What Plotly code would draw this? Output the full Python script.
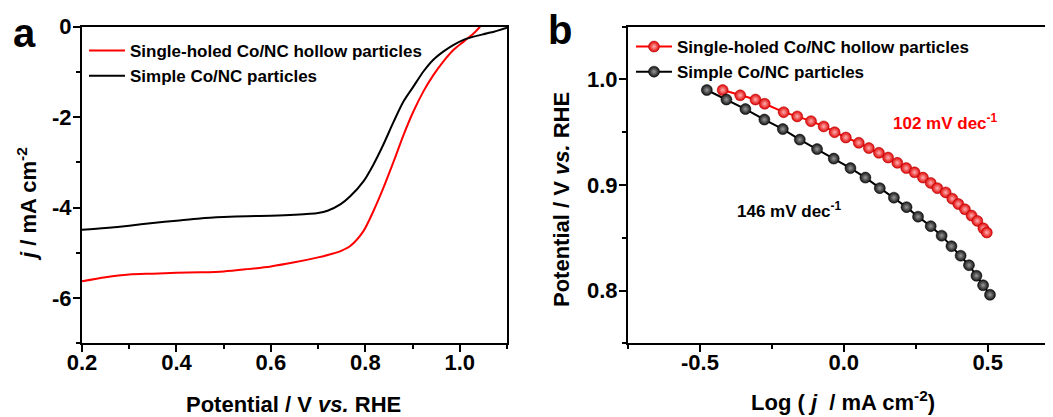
import plotly.graph_objects as go

# ---------------- Panel a: LSV curves ----------------
pot_red = [0.20, 0.25, 0.30, 0.35, 0.40, 0.45, 0.50, 0.55, 0.60, 0.65, 0.70, 0.73, 0.75,
           0.768, 0.796, 0.817, 0.838, 0.860, 0.881, 0.902, 0.923, 0.944, 0.965, 0.987,
           1.008, 1.029, 1.043]
j_red = [-5.63, -5.54, -5.48, -5.46, -5.44, -5.43, -5.41, -5.36, -5.30, -5.21, -5.10, -5.02, -4.95,
         -4.85, -4.52, -4.08, -3.57, -2.98, -2.39, -1.87, -1.43, -1.07, -0.77, -0.51,
         -0.33, -0.15, 0.0]

pot_black = [0.20, 0.25, 0.30, 0.35, 0.40, 0.45, 0.50, 0.55, 0.60, 0.65, 0.70, 0.72, 0.747,
             0.768, 0.796, 0.817, 0.838, 0.860, 0.881, 0.902, 0.923, 0.944, 0.965, 0.987,
             1.008, 1.029, 1.065, 1.10]
j_black = [-4.49, -4.45, -4.40, -4.34, -4.29, -4.24, -4.21, -4.19, -4.18, -4.16, -4.12, -4.07, -3.93,
           -3.75, -3.42, -3.05, -2.61, -2.10, -1.65, -1.32, -0.99, -0.73, -0.55, -0.40,
           -0.29, -0.22, -0.13, -0.02]

# ---------------- Panel b: Tafel plots ----------------
log_red = [-0.421, -0.360, -0.307, -0.275, -0.209, -0.162, -0.114, -0.070, -0.032, 0.007,
           0.052, 0.087, 0.122, 0.154, 0.186, 0.217, 0.246, 0.275, 0.302, 0.325,
           0.354, 0.377, 0.398, 0.421, 0.444, 0.464, 0.485, 0.497]
v_red = [0.990, 0.985, 0.981, 0.977, 0.969, 0.965, 0.9605, 0.9555, 0.950, 0.945,
         0.940, 0.935, 0.9305, 0.926, 0.921, 0.916, 0.912, 0.907, 0.902, 0.897,
         0.893, 0.887, 0.882, 0.877, 0.871, 0.866, 0.859, 0.855]

log_black = [-0.476, -0.408, -0.342, -0.276, -0.212, -0.153, -0.093, -0.035, 0.023, 0.075,
             0.125, 0.174, 0.218, 0.258, 0.302, 0.340, 0.374, 0.406, 0.435, 0.461,
             0.484, 0.508]
v_black = [0.990, 0.981, 0.972, 0.962, 0.953, 0.943, 0.934, 0.925, 0.916, 0.907,
           0.897, 0.888, 0.879, 0.870, 0.861, 0.852, 0.842, 0.833, 0.824, 0.814,
           0.805, 0.796]

name_red = "Single-holed Co/NC hollow particles"
name_black = "Simple Co/NC particles"

FONT = "Arial, 'Liberation Sans', sans-serif"
RED = "#ff0000"
BLACK = "#000000"

# The page body has an 8px margin; size the figure so it fills the rest of the window
W, H = 1045, 409
OFF = 8


def px(x):
    return (x - OFF) / W


def py(y):
    return 1 - (y - OFF) / H


fig = go.Figure()

fig.add_trace(go.Scatter(x=pot_red, y=j_red, mode="lines", name=name_red,
                         line=dict(color=RED, width=2, shape="spline", smoothing=0.8),
                         xaxis="x", yaxis="y", legend="legend"))
fig.add_trace(go.Scatter(x=pot_black, y=j_black, mode="lines", name=name_black,
                         line=dict(color=BLACK, width=2, shape="spline", smoothing=0.8),
                         xaxis="x", yaxis="y", legend="legend"))

fig.add_trace(go.Scatter(x=log_red, y=v_red, mode="lines+markers", name=name_red,
                         line=dict(color=RED, width=2),
                         marker=dict(size=11, color="#e00000",
                                     gradient=dict(type="radial", color="#ffb0b0"),
                                     line=dict(color="#b00000", width=0.5)),
                         xaxis="x2", yaxis="y2", legend="legend2"))
fig.add_trace(go.Scatter(x=log_black, y=v_black, mode="lines+markers", name=name_black,
                         line=dict(color=BLACK, width=2),
                         marker=dict(size=11, color="#111111",
                                     gradient=dict(type="radial", color="#9a9a9a"),
                                     line=dict(color="#000000", width=0.5)),
                         xaxis="x2", yaxis="y2", legend="legend2"))

tickfont = dict(family=FONT, size=22, color="black", weight="bold")
common = dict(showline=True, linecolor="black", linewidth=2, ticks="outside",
              ticklen=7, tickwidth=2, tickcolor="black", showgrid=False,
              zeroline=False, tickfont=tickfont, automargin=False)

ydom = [py(343.3), py(26.7)]

fig.update_layout(
    width=W, height=H,
    margin=dict(l=0, r=0, t=0, b=0),
    paper_bgcolor="white", plot_bgcolor="white",
    xaxis=dict(domain=[px(82), px(507)], range=[0.2, 1.1], tickvals=[0.2, 0.4, 0.6, 0.8, 1.0],
               ticktext=["0.2", "0.4", "0.6", "0.8", "1.0"], mirror=True, anchor="y",
               ticklabelstandoff=-9,
               minor=dict(dtick=0.1, tick0=0.2, ticklen=4, tickwidth=2, tickcolor="black", ticks="outside"),
               **common),
    yaxis=dict(domain=ydom, range=[-7, 0], tickvals=[0, -2, -4, -6],
               ticktext=["0", "-2", "-4", "-6"], mirror=True, anchor="x",
               ticklabelstandoff=-3,
               minor=dict(dtick=1, tick0=0, ticklen=4, tickwidth=2, tickcolor="black", ticks="outside"),
               **common),
    xaxis2=dict(domain=[px(628), 1.0], range=[-0.75, 0.727], tickvals=[-0.5, 0.0, 0.5],
                ticktext=["-0.5", "0.0", "0.5"], mirror=True, anchor="y2",
                ticklabelstandoff=-9,
                minor=dict(dtick=0.25, tick0=0, ticklen=4, tickwidth=2, tickcolor="black", ticks="outside"),
                **common),
    yaxis2=dict(domain=ydom, range=[0.75, 1.05], tickvals=[0.8, 0.9, 1.0],
                ticktext=["0.8", "0.9", "1.0"], mirror=False, anchor="x2",
                ticklabelstandoff=-3,
                minor=dict(dtick=0.05, tick0=0, ticklen=4, tickwidth=2, tickcolor="black", ticks="outside"),
                **common),
    legend=dict(x=px(84), y=py(33), xanchor="left", yanchor="top",
                bgcolor="rgba(0,0,0,0)", borderwidth=0, tracegroupgap=0, itemwidth=36,
                font=dict(family=FONT, size=17, color="black", weight="bold")),
    legend2=dict(x=px(631), y=py(29), xanchor="left", yanchor="top",
                 bgcolor="rgba(0,0,0,0)", borderwidth=0, tracegroupgap=0, itemwidth=36,
                 font=dict(family=FONT, size=17, color="black", weight="bold")),
    showlegend=True,
)

title_font = dict(family=FONT, size=22, color="black", weight="bold")
ann = [
    dict(text="Potential / V <i>vs.</i> RHE", x=293, y=404),
    dict(text="<i>j</i> / mA cm<sup>-2</sup>", x=27, y=204, textangle=-90),
    dict(text="Log ( <i>j</i>  / mA cm<sup>-2</sup>)", x=843, y=401),
    dict(text="Potential / V <i>vs.</i> RHE", x=562, y=200, textangle=-90),
]
for a in ann:
    fig.add_annotation(text=a["text"], xref="paper", yref="paper",
                       x=px(a["x"]), y=py(a["y"]), xanchor="center", yanchor="middle",
                       showarrow=False, textangle=a.get("textangle", 0), font=title_font)

# panel letters
fig.add_annotation(text="a", xref="paper", yref="paper", x=px(24), y=py(33),
                   xanchor="center", yanchor="middle", showarrow=False,
                   font=dict(family=FONT, size=40, color="black", weight="bold"))
fig.add_annotation(text="b", xref="paper", yref="paper", x=px(560), y=py(30),
                   xanchor="center", yanchor="middle", showarrow=False,
                   font=dict(family=FONT, size=40, color="black", weight="bold"))

# slope labels
fig.add_annotation(text="102 mV dec<sup>-1</sup>", xref="paper", yref="paper",
                   x=px(945), y=py(122), xanchor="center", yanchor="middle",
                   showarrow=False, font=dict(family=FONT, size=17, color=RED, weight="bold"))
fig.add_annotation(text="146 mV dec<sup>-1</sup>", xref="paper", yref="paper",
                   x=px(789), y=py(210), xanchor="center", yanchor="middle",
                   showarrow=False, font=dict(family=FONT, size=17, color=BLACK, weight="bold"))

fig.write_html("out.html")
